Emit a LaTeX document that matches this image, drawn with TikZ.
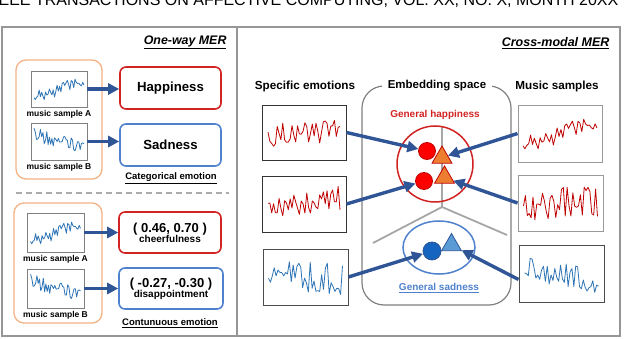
\documentclass[tikz,border=0pt]{standalone}
\usepackage{fontspec}
\setmainfont{Liberation Sans}
\usepackage{xcolor}
\usepackage{tikz}
\usetikzlibrary{arrows.meta,positioning,shapes.geometric}
\definecolor{merred}{RGB}{210,35,35}
\definecolor{merdark}{RGB}{192,0,0}
\definecolor{merblue}{RGB}{79,129,205}
\definecolor{merwave}{RGB}{46,117,182}
\definecolor{merorange}{RGB}{244,177,131}
\definecolor{merarrow}{RGB}{47,85,151}
\definecolor{merframe}{RGB}{150,150,150}
\definecolor{mertri}{RGB}{237,125,49}
\definecolor{mersky}{RGB}{91,155,213}
\definecolor{merdot}{RGB}{21,101,192}

% noisy signal inside a thumbnail: node, colour, seed, half width, half height, trend
\newcommand{\sigwave}[6]{%
  \begin{scope}[shift={(#1.center)}]
    \pgfmathsetseed{#3}
    \draw[#2, line width=0.8pt, line join=round]
      plot[domain=-1:1, samples=40] ({#4*\x}, {#5*(-(#6)*\x + (1-abs(#6))*(0.8*rand + 0.2*rand*rand*rand))});
  \end{scope}}

\begin{document}
\begin{tikzpicture}[x=1pt, y=-1pt,
  font=\bfseries,
  every node/.style={align=center},
  panel/.style={draw=merframe, line width=1.3pt, inner sep=0pt},
  thumb/.style={draw=#1, line width=0.9pt, fill=white, inner sep=0pt},
  emobox/.style={draw=#1, line width=1.6pt, rounded corners=6pt, minimum width=101pt, minimum height=42pt, inner sep=1pt},
  grpbox/.style={draw=merorange, line width=1.3pt, rounded corners=10pt, inner sep=0pt},
  bigarrow/.style={-{Triangle[length=11pt,width=11pt]}, line width=3.4pt, merarrow},
  capt/.style={font=\bfseries\fontsize{8.5}{9}\selectfont, inner sep=0pt},
  embdot/.style={circle, draw=#1, line width=0.8pt, minimum size=17pt, inner sep=0pt},
  embtri/.style={regular polygon, regular polygon sides=3, draw=#1, line width=0.8pt, minimum size=23pt, inner sep=0pt}
]
\useasboundingbox (0,0) rectangle (640,339);
% running head, cut at the top
\begin{scope}
  \clip (0,0) rectangle (640,339);
  \node[anchor=base west, inner sep=0pt, font=\fontsize{16}{18}\selectfont] (head) at (-6,6)
    {IEEE TRANSACTIONS ON AFFECTIVE COMPUTING, VOL. XX, NO. X, MONTH 20XX};
\end{scope}
\node[panel, minimum width=235pt, minimum height=309pt] (oneway) at (119.5,181.5) {};
\node[panel, minimum width=383pt, minimum height=309pt] (cross) at (428.5,181.5) {};

% one-way MER
\node[anchor=east, font=\bfseries\itshape\fontsize{12.4}{14}\selectfont] (owtitle) at (230,42) {\underline{One-way MER}};
\node[grpbox, minimum width=86pt, minimum height=119pt] (grpa) at (59,119.5) {};
\node[thumb=black!50, minimum width=56pt, minimum height=36pt] (sa1) at (59,89) {};
\node[capt, below=3pt of sa1] (la1) {music sample A};
\node[thumb=black!50, minimum width=56pt, minimum height=37pt] (sb1) at (59,141.5) {};
\node[capt, below=3pt of sb1] (lb1) {music sample B};
\node[emobox=merred] (hap) at (170.5,88) {\fontsize{13.2}{15}\selectfont Happiness};
\node[emobox=merblue] (sad) at (170.5,145) {\fontsize{13.2}{15}\selectfont Sadness};
\node[font=\bfseries\fontsize{9.5}{11}\selectfont] (cat) at (171,178) {\underline{Categorical emotion}};
\draw[merframe!80, line width=1.5pt, dash pattern=on 6pt off 4pt] (16,193) -- (229,193);

\node[grpbox, minimum width=88pt, minimum height=120pt] (grpb) at (58,263) {};
\node[thumb=black!50, minimum width=57pt, minimum height=39pt] (sa2) at (55.5,232.5) {};
\node[capt, below=3pt of sa2] (la2) {music sample A};
\node[thumb=black!50, minimum width=57pt, minimum height=39pt] (sb2) at (55.5,288.5) {};
\node[capt, below=3pt of sb2] (lb2) {music sample B};
\node[emobox=merred, minimum width=102pt, minimum height=41pt] (chr) at (170,232.5)
  {\fontsize{13}{15}\selectfont ( 0.46, 0.70 )\\[-2pt]\fontsize{10}{12}\selectfont cheerfulness};
\node[emobox=merblue, minimum width=104pt, minimum height=41pt] (dis) at (171,288.5)
  {\fontsize{13}{15}\selectfont ( -0.27, -0.30 )\\[-2pt]\fontsize{10}{12}\selectfont disappointment};
\node[font=\bfseries\fontsize{9.5}{11}\selectfont] (cont) at (170,323) {\underline{Contunuous emotion}};

\sigwave{sa1}{merwave}{11}{25}{16}{0.5}
\sigwave{sb1}{merwave}{23}{25}{16}{-0.45}
\sigwave{sa2}{merwave}{11}{25}{17}{0.5}
\sigwave{sb2}{merwave}{23}{25}{17}{-0.45}

\draw[bigarrow] (sa1.east) -- (sa1.east -| hap.west);
\draw[bigarrow] (sb1.east) -- (sb1.east -| sad.west);
\draw[bigarrow] (sa2.east) -- (sa2.east -| chr.west);
\draw[bigarrow] (sb2.east) -- (sb2.east -| dis.west);

% cross-modal MER
\node[anchor=east, font=\bfseries\itshape\fontsize{12.5}{14}\selectfont] (cmtitle) at (613,43) {\underline{Cross-modal MER}};
\node[font=\bfseries\fontsize{11.7}{13}\selectfont] (spec) at (305,86) {Specific emotions};
\node[font=\bfseries\fontsize{11.7}{13}\selectfont] (mus) at (557,86) {Music samples};
\node[draw=black!50, line width=1.2pt, rounded corners=22pt, minimum width=149pt, minimum height=219pt] (emb) at (436.5,195.5) {};
\node[fill=white, inner xsep=6pt, font=\bfseries\fontsize{11.5}{13}\selectfont] (embl) at (437,86) {Embedding space};

\node[text=merred, font=\bfseries\fontsize{10}{12}\selectfont] (ghap) at (435,115) {General happiness};
\coordinate (yj) at (442,207);
\draw[black!35, line width=1.8pt] (yj |- 0,127) -- (yj) -- (373,243);
\draw[black!35, line width=1.8pt] (yj) -- (507,235);
\node[circle, draw=merred, line width=1.5pt, minimum size=76pt] (ring) at (435,164) {};
\node[ellipse, draw=merblue, line width=1.5pt, minimum width=72pt, minimum height=53pt] (bell) at (439,247.5) {};
\node[text=merblue, font=\bfseries\fontsize{10}{12}\selectfont] (gsad) at (439,288) {\underline{General sadness}};

\node[embdot=merdark, fill=red] (d1) at (427,151) {};
\node[embtri=merdark, fill=mertri] (t1) at (442,157.5) {};
\node[embdot=merdark, fill=red] (d2) at (424,181) {};
\node[embtri=merdark, fill=mertri] (t2) at (444.5,177.5) {};
\node[embdot=merarrow, fill=merdot, minimum size=18pt] (bd) at (432,251) {};
\node[embtri=merarrow, fill=mersky] (bt) at (451.5,245) {};

\node[thumb=black!80, minimum width=84pt, minimum height=55pt] (r1) at (304,132.5) {};
\node[thumb=black!80, minimum width=84pt, minimum height=56pt] (r2) at (304,204) {};
\node[thumb=black!70, minimum width=85pt, minimum height=56pt] (b1) at (305.5,277) {};
\node[thumb=black!40, minimum width=84pt, minimum height=57pt] (m1) at (560,133.5) {};
\node[thumb=black!40, minimum width=85pt, minimum height=56pt] (m2) at (560.5,203) {};
\node[thumb=black!70, minimum width=85pt, minimum height=57pt] (m3) at (561.5,273.5) {};

\sigwave{r1}{merdark}{3}{36}{18}{0.2}
\sigwave{r2}{merdark}{5}{36}{20}{0.25}
\sigwave{b1}{merwave}{7}{37}{22}{-0.1}
\sigwave{m1}{merdark}{11}{37}{23}{0.5}
\sigwave{m2}{merdark}{13}{37}{22}{0.1}
\sigwave{m3}{merwave}{17}{37}{23}{-0.35}

\draw[bigarrow] (r1.east) -- (d1);
\draw[bigarrow] (m1.west) -- (t1);
\draw[bigarrow] (r2.east) -- (d2);
\draw[bigarrow] (m2.west) -- (t2);
\draw[bigarrow] (b1.east) -- (bd);
\draw[bigarrow] ([yshift=-6pt]m3.west) -- (bt);
\end{tikzpicture}
\end{document}
